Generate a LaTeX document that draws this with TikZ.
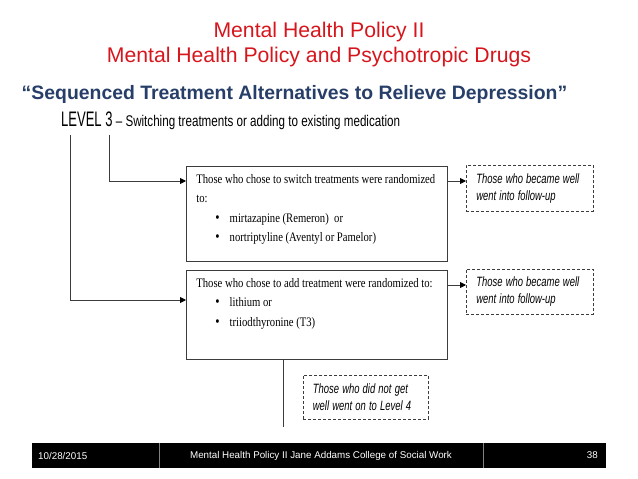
\documentclass[tikz,border=0pt]{standalone}
\usepackage{fontspec}
\setmainfont{Liberation Sans}
\newfontfamily\timesfont[FakeStretch=0.82]{Liberation Serif}
\usepackage{graphicx}
\usepackage{tikz}
\usetikzlibrary{arrows.meta}

\definecolor{titlered}{RGB}{214,22,28}
\definecolor{subblue}{RGB}{38,62,104}
\definecolor{linegray}{RGB}{60,60,60}

\newcommand{\drugitem}[1]{\hspace*{19pt}{\fontsize{15}{19}\selectfont\textbullet}\hspace{10pt}#1}
\newcommand{\narrowline}[2]{\scalebox{#1}[1]{#2}}

\tikzset{
    treatbox/.style={draw=linegray, line width=0.8pt, anchor=north west,
        inner xsep=10pt, inner ysep=0pt,
        font=\timesfont\fontsize{13}{19.5}\selectfont},
    wellbox/.style={draw=linegray, line width=0.7pt, dash pattern=on 3pt off 2pt,
        anchor=north west, inner xsep=10pt, inner ysep=0pt, align=left,
        font=\itshape\fontsize{13.5}{17}\selectfont},
    flow/.style={draw=linegray, line width=0.9pt,
        -{Triangle[length=6pt,width=6pt,color=black]}},
    link/.style={draw=linegray, line width=0.9pt},
    footer/.style={text=white, inner sep=0pt, font=\fontsize{9.8}{11}\selectfont}
}

\begin{document}
\begin{tikzpicture}[x=1pt,y=-1pt]
        \useasboundingbox (0,0) rectangle (638,479);

        % Titles
        \node[anchor=base, text=titlered, font=\fontsize{21.2}{25}\selectfont] (titleA) at (319,37) {Mental Health Policy II};
        \node[anchor=base, text=titlered, font=\fontsize{21.2}{25}\selectfont] (titleB) at (319,62) {Mental Health Policy and Psychotropic Drugs};
        \node[anchor=base, text=subblue, font=\bfseries\fontsize{19.4}{22}\selectfont] (subtitle) at (294.5,99)
            {“Sequenced Treatment Alternatives to Relieve Depression”};
        \node[anchor=base west, inner sep=0pt] (level) at (61,126)
            {\narrowline{0.62}{\fontsize{21}{22}\selectfont LEVEL 3}\narrowline{0.75}{\fontsize{15.5}{20}\selectfont{} – Switching treatments or adding to existing medication}};

        % Treatment boxes
        \node[treatbox] (switchbox) at (186,166) {\parbox[c][95pt][t]{241pt}{\raggedright\vspace*{8pt}%
            Those who chose to switch treatments were randomized\\
            to:\\
            \drugitem{mirtazapine (Remeron)~~or}\\
            \drugitem{nortriptyline (Aventyl or Pamelor)}}};
        \node[treatbox] (addbox) at (186,270) {\parbox[c][89pt][t]{241pt}{\raggedright\vspace*{8pt}%
            Those who chose to add treatment were randomized to:\\
            \drugitem{lithium or}\\
            \drugitem{triiodthyronine (T3)}}};

        % Outcome boxes
        \node[wellbox, minimum width=127pt, minimum height=46pt, text width=107pt] (wellA) at (466,165)
            {\narrowline{0.7}{Those who became well}\\\narrowline{0.7}{went into follow-up}};
        \node[wellbox, minimum width=127pt, minimum height=45pt, text width=107pt] (wellB) at (466,269)
            {\narrowline{0.7}{Those who became well}\\\narrowline{0.7}{went into follow-up}};
        \node[wellbox, minimum width=125pt, minimum height=44pt, text width=106pt, inner xsep=9.5pt] (notwell) at (303,375)
            {\narrowline{0.7}{Those who did not get}\\\narrowline{0.7}{well went on to Level 4}};

        % Connectors
        \coordinate (lvlA) at (70,135);
        \coordinate (lvlB) at (109,135);
        \draw[flow] (lvlB) |- ([yshift=-15pt]switchbox.north west);
        \draw[flow] (lvlA) |- ([yshift=-30pt]addbox.north west);

        \coordinate (outA) at ([yshift=-15pt]switchbox.north east);
        \coordinate (outB) at ([yshift=-15pt]addbox.north east);
        \draw[flow] (outA) -- (outA -| wellA.west);
        \draw[flow] (outB) -- (outB -| wellB.west);

        \coordinate (down) at (283,427);
        \draw[link] (down |- addbox.south) -- (down);

        % Footer bar
        \fill[black] (32,443) rectangle (606,468);
        \draw[gray] (159,443) -- (159,468);
        \draw[gray] (483,443) -- (483,468);
        \node[footer, anchor=west] (date) at (38,455.5) {10/28/2015};
        \node[footer] (course) at (321,455.5) {Mental Health Policy II Jane Addams College of Social Work};
        \node[footer, anchor=east] (page) at (598,455.5) {38};
\end{tikzpicture}
\end{document}
